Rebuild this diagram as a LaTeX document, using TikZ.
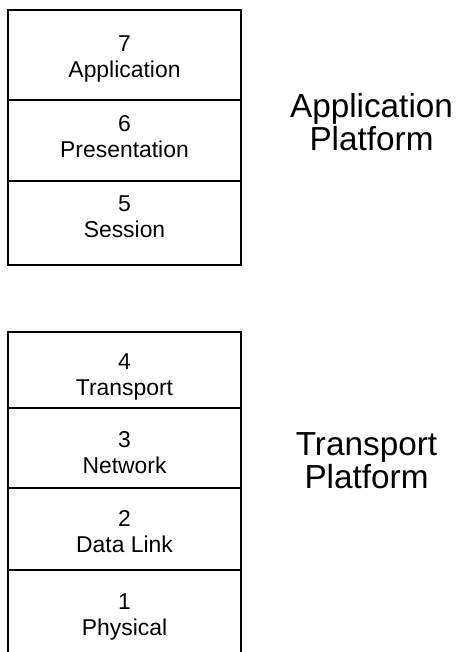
\documentclass[tikz,border=0pt]{standalone}
\usepackage{fontspec}
\setmainfont{Liberation Sans}
\begin{document}
\begin{tikzpicture}[x=1pt,y=-1pt,
  layer/.style={draw=black, line width=1.4pt, inner sep=0pt, outer sep=0pt, minimum width=233pt},
  frame/.style={draw=black, line width=2.2pt},
  lbl/.style={align=center, inner sep=0pt, font=\fontsize{22.9pt}{26pt}\selectfont, text height=42.4pt, text depth=4.8pt},
  plat/.style={align=center, inner sep=0pt, font=\fontsize{33.3pt}{33.5pt}\selectfont, text height=57.3pt, text depth=7pt}]
\useasboundingbox (0,0) rectangle (457,652);
% application platform
\node[layer, minimum height=90pt] (r7) at (124.5,55) {};
\node[layer, minimum height=81pt] (r6) at (124.5,140.5) {};
\node[layer, minimum height=84pt] (r5) at (124.5,223) {};
\draw[frame] (r7.north west) rectangle (r5.south east);
\node[lbl] (t7) at (124.5,59.2) {7\\Application};
\node[lbl] (t6) at (124.5,139.2) {6\\Presentation};
\node[lbl] (t5) at (124.5,218.2) {5\\Session};
% transport platform
\node[layer, minimum height=76pt] (r4) at (124.5,370) {};
\node[layer, minimum height=80pt] (r3) at (124.5,448) {};
\node[layer, minimum height=82pt] (r2) at (124.5,529) {};
\node[layer, minimum height=90pt] (r1) at (124.5,615) {};
\draw[frame] (r4.north west) rectangle (r1.south east);
\node[lbl] (t4) at (124.5,376.2) {4\\Transport};
\node[lbl] (t3) at (124.5,454.2) {3\\Network};
\node[lbl] (t2) at (124.5,533.2) {2\\Data Link};
\node[lbl] (t1) at (124.5,616.2) {1\\Physical};
% platform labels
\node[plat] (ap) at (371.5,125.4) {Application\\Platform};
\node[plat] (tp) at (366.5,463.4) {Transport\\Platform};
\end{tikzpicture}
\end{document}
